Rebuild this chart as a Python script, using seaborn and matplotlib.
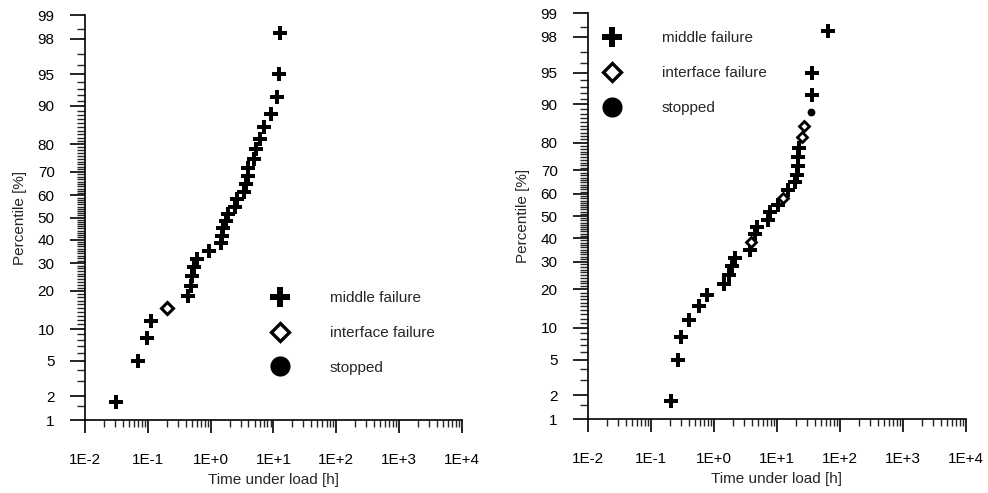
import numpy as np
import matplotlib
matplotlib.use("Agg")
import matplotlib.pyplot as plt
from matplotlib.lines import Line2D
import seaborn as sns
from statistics import NormalDist

# ---------------- data ----------------
# left panel
left_middle_time = [0.031, 0.070, 0.096, 0.111, 0.43, 0.48, 0.50, 0.54, 0.61, 0.95,
                    1.45, 1.51, 1.58, 1.75, 1.86, 2.43, 2.64, 3.41, 3.59, 3.86,
                    3.95, 4.81, 5.24, 6.21, 7.01, 9.29, 11.4, 12.3, 12.6]
left_middle_pct = [1.7, 5.0, 8.3, 11.7, 18.3, 21.7, 25.0, 28.3, 31.7, 35.0,
                   38.3, 41.7, 45.0, 48.3, 51.7, 55.0, 58.3, 61.7, 65.0, 68.3,
                   71.7, 75.0, 78.3, 81.7, 85.0, 88.3, 91.7, 95.0, 98.3]
left_interface_time = [0.20]
left_interface_pct = [15.0]

# right panel
right_middle_time = [0.207, 0.268, 0.299, 0.408, 0.578, 0.783, 1.44, 1.76, 1.95, 2.18,
                     3.73, 4.47, 4.81, 7.33, 7.74, 10.4, 15.1, 19.0, 20.6, 21.3,
                     21.4, 22.6, 35.6, 36.0, 63.8]
right_middle_pct = [1.7, 5.0, 8.3, 11.7, 15.0, 18.3, 21.7, 25.0, 28.3, 31.7,
                    35.0, 41.7, 45.0, 48.3, 51.7, 55.0, 61.7, 65.0, 68.3, 71.7,
                    75.0, 78.3, 91.7, 95.0, 98.3]
right_interface_time = [3.87, 12.6, 24.7, 26.8]
right_interface_pct = [38.3, 58.3, 81.7, 85.0]
right_stopped_time = [34.3]
right_stopped_pct = [88.3]

# axis ticks
y_major = [1, 2, 5, 10, 20, 30, 40, 50, 60, 70, 80, 90, 95, 98, 99]
y_minor = ([1.5, 3, 4, 6, 7, 8, 9]
           + [v for v in range(11, 90) if v % 10 != 0]
           + [91, 92, 93, 94, 96, 97, 98.5])
x_major = [1e-2, 1e-1, 1e0, 1e1, 1e2, 1e3, 1e4]
x_major_labels = ["1E-2", "1E-1", "1E+0", "1E+1", "1E+2", "1E+3", "1E+4"]
legend_labels = ["middle failure", "interface failure", "stopped"]

# ---------------- style ----------------
sns.set_style("ticks")
plt.rcParams["font.family"] = ["Liberation Sans", "DejaVu Sans"]
plt.rcParams["font.size"] = 11

_nd = NormalDist()
_ppf = np.vectorize(lambda p: _nd.inv_cdf(min(max(p / 100.0, 1e-9), 1 - 1e-9)))
_cdf = np.vectorize(lambda z: 100.0 * _nd.cdf(z))


def fwd(p):
    p = np.asarray(p, dtype=float)
    out = np.full(p.shape, np.nan)
    ok = np.isfinite(p)
    if ok.any():
        out[ok] = _ppf(p[ok])
    return out


def inv(z):
    z = np.asarray(z, dtype=float)
    out = np.full(z.shape, np.nan)
    ok = np.isfinite(z)
    if ok.any():
        out[ok] = _cdf(z[ok])
    return out


fig = plt.figure(figsize=(9.88, 4.93), dpi=100)
ax1 = fig.add_axes([0.086, 0.148, 0.3816, 0.8215])
ax2 = fig.add_axes([0.5951, 0.150, 0.3826, 0.8235])

PLUS_S = 9.4 ** 2
DIAM_MS = 6.6
CIRC_S = 5.6 ** 2
LW = 1.0


def setup(ax):
    ax.set_xscale("log")
    ax.set_yscale("function", functions=(fwd, inv))
    ax.set_xlim(1e-2, 1e4)
    ax.set_ylim(1, 99)
    ax.set_yticks(y_major)
    ax.set_yticklabels([str(v) for v in y_major])
    ax.set_yticks(y_minor, minor=True)
    ax.set_xticks(x_major)
    ax.set_xticklabels(x_major_labels)
    ax.set_xticks([m * d for d in x_major[:-1] for m in range(2, 10)], minor=True)
    ax.xaxis.set_minor_formatter(matplotlib.ticker.NullFormatter())
    ax.yaxis.set_minor_formatter(matplotlib.ticker.NullFormatter())
    for s in ["top", "right"]:
        ax.spines[s].set_visible(False)
    for s in ["left", "bottom"]:
        ax.spines[s].set_linewidth(LW + 0.2)
        ax.spines[s].set_color("black")
    ax.tick_params(axis="y", which="major", length=10.8, width=LW + 0.2, pad=11,
                   labelsize=11, direction="out", colors="black")
    ax.tick_params(axis="y", which="minor", length=5.5, width=LW, direction="out")
    ax.tick_params(axis="x", which="major", length=9.4, width=LW + 0.2, pad=14,
                   labelsize=11, direction="out", colors="black")
    ax.tick_params(axis="x", which="minor", length=5.0, width=LW, direction="out")
    ax.set_xlabel("Time under load [h]", fontsize=11, labelpad=5)
    ax.set_ylabel("Percentile [%]", fontsize=11, labelpad=8)
    ax.set_facecolor("white")


def legend(ax, anchor):
    handles = [
        Line2D([], [], ls="", marker="P", markersize=14.5, color="black", markeredgewidth=0),
        Line2D([], [], ls="", marker="D", markersize=9.0, markerfacecolor="white",
               markeredgecolor="black", markeredgewidth=2.4),
        Line2D([], [], ls="", marker="o", markersize=14.5, color="black", markeredgewidth=0),
    ]
    ax.legend(handles, legend_labels, loc="upper left", bbox_to_anchor=anchor,
              frameon=False, fontsize=11, handlelength=2.0, handletextpad=2.25,
              labelspacing=1.36, borderpad=0, borderaxespad=0)


# left panel
setup(ax1)
sns.scatterplot(x=left_middle_time, y=left_middle_pct, marker="P", s=PLUS_S,
                color="black", linewidth=0, ax=ax1, legend=False, zorder=3)
ax1.plot(left_interface_time, left_interface_pct, ls="", marker="D", markersize=DIAM_MS,
         markerfacecolor="white", markeredgecolor="black", markeredgewidth=2.2, zorder=3)
legend(ax1, (0.477, 0.318))

# right panel
setup(ax2)
sns.scatterplot(x=right_middle_time, y=right_middle_pct, marker="P", s=PLUS_S,
                color="black", linewidth=0, ax=ax2, legend=False, zorder=3)
ax2.plot(right_interface_time, right_interface_pct, ls="", marker="D", markersize=5.4,
         markerfacecolor="white", markeredgecolor="black", markeredgewidth=2.0, zorder=4)
sns.scatterplot(x=right_stopped_time, y=right_stopped_pct, marker="o", s=CIRC_S,
                color="black", linewidth=0, ax=ax2, legend=False, zorder=3)
legend(ax2, (0.024, 0.955))

fig.savefig("out.png", dpi=100, facecolor="white")
